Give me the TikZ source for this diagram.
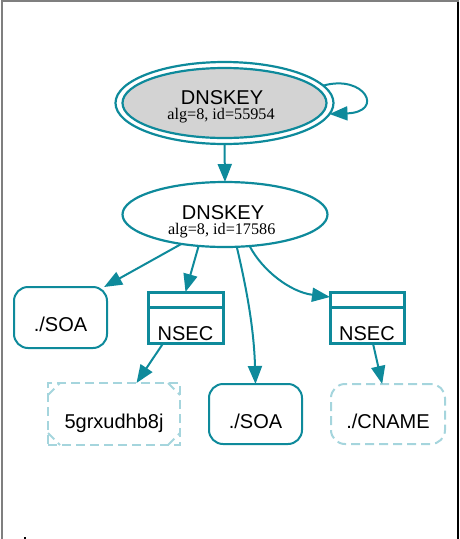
\documentclass[tikz,border=0pt]{standalone}
\usepackage{fontspec}
\setmainfont{Liberation Serif}
\setsansfont{Liberation Sans}
\usetikzlibrary{shapes.geometric,arrows.meta,calc}
\definecolor{edgeteal}{HTML}{0E8A9B}
\definecolor{paleteal}{HTML}{A5D5DD}
\definecolor{keygray}{HTML}{D3D3D3}
\definecolor{framegray}{HTML}{7F7F7F}
\begin{document}
\begin{tikzpicture}[x=1pt,y=-1pt,
  edge/.style={draw=edgeteal, line width=2pt, -{Triangle[length=18pt,width=14pt]}},
  keyring/.style={ellipse, draw=edgeteal, line width=2.2pt, inner sep=0pt, outer sep=0pt},
  keyname/.style={font=\sffamily\fontsize{20}{24}\selectfont, anchor=base, inner sep=0pt, text depth=0pt},
  keyalg/.style={font=\rmfamily\fontsize{16.2}{20}\selectfont, anchor=base, inner sep=0pt, text height=8pt},
  boxtext/.style={font=\sffamily\fontsize{20}{24}\selectfont, inner sep=0pt, outer sep=0pt, text depth=0pt},
  rrset/.style={boxtext, draw=edgeteal, line width=2pt, rounded corners=14pt, text height=28pt},
  absent/.style={boxtext, draw=paleteal, line width=2pt, dash pattern=on 9pt off 5pt, text height=28pt},
  nsecrec/.style={boxtext, draw=edgeteal, line width=3pt, text height=45pt,
                  minimum width=75pt, minimum height=51pt},
]
\useasboundingbox (0,0) rectangle (459,539);

% frame
\draw[framegray, line width=2pt] (1.5,539) -- (1.5,1) -- (459,1);
\draw[black, line width=1.5pt] (458.2,2) -- (458.2,539);
\node[fill=black, inner sep=0pt, minimum size=2pt] (dot) at (24.5,537.8) {};

% keys
\node[keyring, minimum width=218pt, minimum height=82pt] (k1) at (224.5,103) {};
\node[keyring, fill=keygray, minimum width=204pt, minimum height=70pt] (k1in) at (224.5,103) {};
\node[keyname] (k1n) at (222,104) {DNSKEY};
\node[keyalg] (k1a) at (221,119.5) {alg=8, id=55954};

\node[keyring, minimum width=205pt, minimum height=65pt] (k2) at (225,214.5) {};
\node[keyname] (k2n) at (223,219) {DNSKEY};
\node[keyalg] (k2a) at (221.7,234.5) {alg=8, id=17586};

% records
\node[rrset, minimum width=93pt, minimum height=61pt] (soa1) at (60.5,317.5) {./SOA};
\node[nsecrec] (nsec1) at (185.5,317.5) {NSEC};
\node[nsecrec, minimum width=74pt] (nsec2) at (367,317.5) {NSEC};
\draw[edgeteal, line width=3pt] ($(nsec1.north west)+(0,15)$) -- ($(nsec1.north east)+(0,15)$);
\draw[edgeteal, line width=3pt] ($(nsec2.north west)+(0,15)$) -- ($(nsec2.north east)+(0,15)$);

\node[absent, minimum width=132pt, minimum height=62pt] (grx) at (114,414) {5grxudhb8j};
\draw[paleteal, line width=2pt, dash pattern=on 9pt off 5pt]
  ($(grx.north west)+(0,12)$) -- ($(grx.north west)+(12,0)$)
  ($(grx.north east)+(-12,0)$) -- ($(grx.north east)+(0,12)$)
  ($(grx.south west)+(0,-12)$) -- ($(grx.south west)+(12,0)$)
  ($(grx.south east)+(-12,0)$) -- ($(grx.south east)+(0,-12)$);
\node[rrset, minimum width=93pt, minimum height=60pt] (soa2) at (255.5,414) {./SOA};
\node[absent, rounded corners=14pt, minimum width=114pt, minimum height=60pt] (cname) at (388,414) {./CNAME};

% edges
\draw[edge] (k1.10) .. controls (365,74) and (385,112) .. (k1.-6);
\draw[edge] (k1.south) -- (k2.north);
\draw[edge] (k2.214) -- (soa1.35);
\draw[edge] (k2.230) -- (nsec1.north);
\draw[edge] (k2.290) .. controls (247,290) and (254,330) .. (soa2.north);
\draw[edge] (k2.308) .. controls (262,270) and (290,292) .. (nsec2.151);
\draw[edge] (nsec1.229) -- (grx.54);
\draw[edge] (nsec2.283) -- (cname.101);
\end{tikzpicture}
\end{document}
